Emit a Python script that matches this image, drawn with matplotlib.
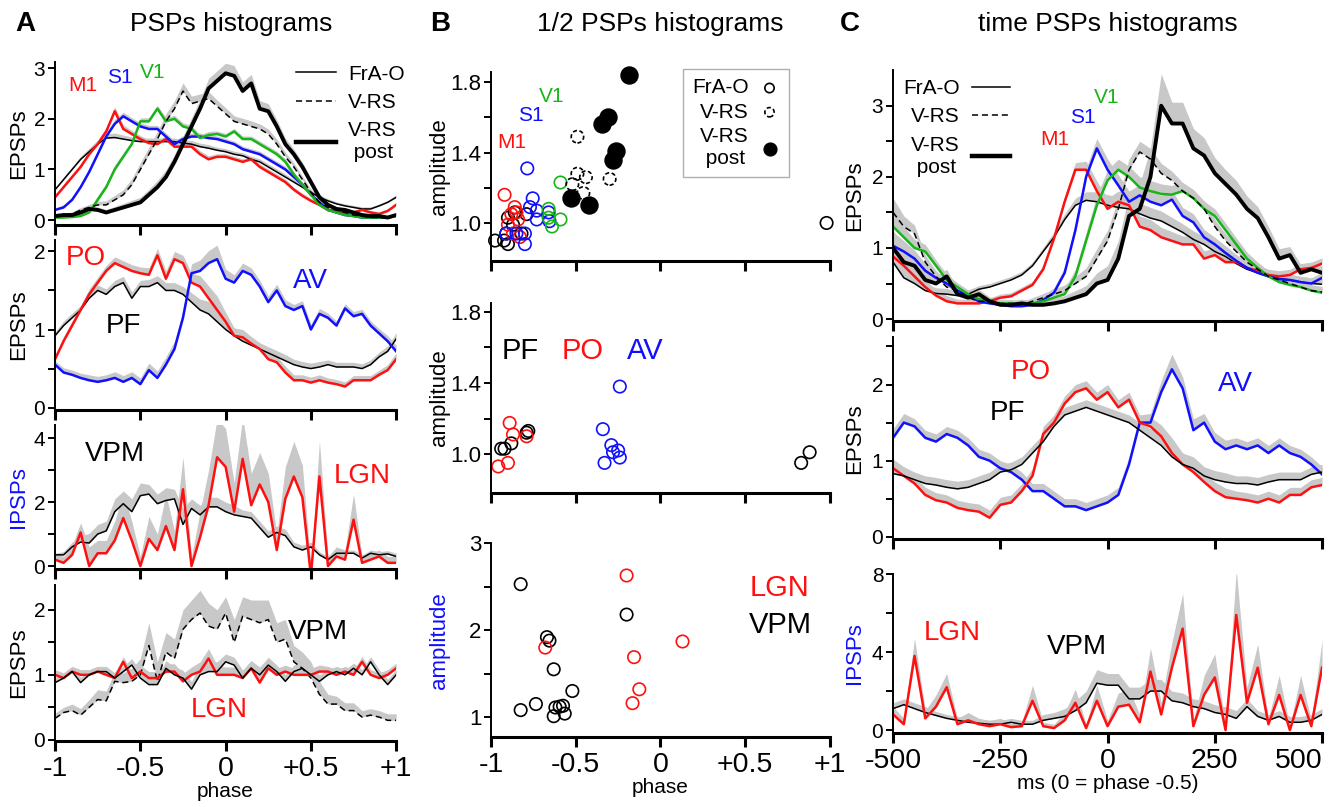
import numpy as np
import matplotlib.pyplot as plt
from matplotlib.lines import Line2D

plt.rcParams['font.family'] = ['Liberation Sans', 'DejaVu Sans']

RED = '#ff1010'
BLUE = '#1010ff'
GREEN = '#18b418'
GRAY = '#c8c8c8'

# ---------------- data ----------------
phase = np.linspace(-1, 1, 41)
ms = np.linspace(-500, 500, 41)

# A, row 1 : cortical EPSPs vs phase
FRA_A1 = [0.60,0.80,1.00,1.20,1.35,1.50,1.62,1.63,1.60,1.57,1.55,1.55,1.55,1.55,1.55,1.52,1.50,1.45,1.42,1.38,1.35,1.30,1.27,1.20,1.15,1.05,0.95,0.85,0.75,0.65,0.55,0.45,0.38,0.32,0.28,0.25,0.22,0.22,0.28,0.35,0.45]
M1_A1 = [0.45,0.65,0.85,1.05,1.30,1.50,1.75,2.15,1.80,1.70,1.60,1.52,1.50,1.60,1.45,1.45,1.45,1.30,1.20,1.25,1.25,1.20,1.15,1.20,1.05,0.95,0.85,0.75,0.60,0.48,0.38,0.30,0.20,0.18,0.15,0.15,0.20,0.15,0.12,0.18,0.30]
S1_A1 = [0.20,0.25,0.40,0.65,0.95,1.30,1.65,1.90,2.05,1.95,1.85,1.80,1.80,1.65,1.50,1.60,1.65,1.65,1.62,1.60,1.55,1.50,1.40,1.35,1.30,1.20,1.10,1.00,0.85,0.70,0.50,0.35,0.20,0.15,0.10,0.08,0.05,0.05,0.05,0.05,0.10]
V1_A1 = [0.05,0.05,0.06,0.08,0.15,0.40,0.65,1.00,1.25,1.50,1.95,1.95,2.20,1.95,2.00,1.85,1.80,1.62,1.68,1.70,1.65,1.75,1.60,1.60,1.50,1.40,1.30,1.15,0.90,0.70,0.50,0.30,0.20,0.15,0.10,0.08,0.05,0.05,0.05,0.05,0.08]
VRS_A1 = [0.10,0.10,0.12,0.20,0.25,0.30,0.30,0.40,0.50,0.70,1.00,1.30,1.60,1.95,2.20,2.55,2.30,2.35,2.40,2.25,2.10,1.95,1.90,1.85,1.80,1.70,1.50,1.25,1.05,0.80,0.55,0.35,0.25,0.20,0.15,0.10,0.08,0.05,0.05,0.05,0.10]
POST_A1 = [0.08,0.10,0.10,0.15,0.22,0.20,0.15,0.20,0.25,0.30,0.35,0.50,0.65,0.85,1.15,1.50,1.85,2.20,2.60,2.75,2.90,2.85,2.55,2.70,2.20,2.15,1.85,1.50,1.30,1.05,0.75,0.45,0.30,0.22,0.20,0.15,0.10,0.08,0.08,0.05,0.10]
SEM_A1 = [0.04,0.05,0.05,0.06,0.07,0.08,0.08,0.09,0.08,0.07,0.07,0.07,0.07,0.07,0.07,0.07,0.07,0.07,0.07,0.06,0.06,0.06,0.06,0.06,0.06,0.06,0.06,0.06,0.05,0.05,0.05,0.05,0.04,0.04,0.04,0.04,0.04,0.04,0.04,0.04,0.05]
SEM_A1_VRS = [0.03,0.03,0.04,0.05,0.06,0.07,0.08,0.09,0.10,0.12,0.13,0.14,0.15,0.15,0.16,0.16,0.15,0.14,0.14,0.12,0.12,0.11,0.11,0.11,0.10,0.10,0.10,0.09,0.08,0.07,0.06,0.05,0.04,0.04,0.04,0.03,0.03,0.03,0.03,0.03,0.03]
SEM_A1_POST = [0.03,0.04,0.04,0.05,0.06,0.06,0.06,0.07,0.08,0.09,0.10,0.11,0.13,0.14,0.15,0.16,0.17,0.18,0.20,0.20,0.20,0.20,0.18,0.18,0.16,0.15,0.13,0.12,0.10,0.09,0.07,0.06,0.05,0.04,0.04,0.04,0.03,0.03,0.03,0.03,0.04]

# A, row 2 : PF / PO / AV
PF_A2 = [0.92,1.05,1.15,1.25,1.40,1.50,1.45,1.55,1.60,1.40,1.55,1.55,1.60,1.50,1.50,1.45,1.35,1.25,1.20,1.10,1.00,0.92,0.85,0.80,0.75,0.70,0.65,0.60,0.55,0.52,0.50,0.52,0.55,0.52,0.52,0.52,0.50,0.55,0.65,0.72,0.88]
PO_A2 = [0.62,0.85,1.05,1.25,1.45,1.60,1.75,1.85,1.80,1.75,1.72,1.70,1.95,1.65,1.90,1.85,1.60,1.55,1.40,1.25,1.10,0.92,0.90,0.82,0.75,0.62,0.58,0.45,0.35,0.35,0.32,0.35,0.32,0.30,0.27,0.35,0.35,0.35,0.42,0.48,0.62]
AV_A2 = [0.55,0.45,0.42,0.38,0.35,0.33,0.35,0.38,0.33,0.38,0.30,0.48,0.38,0.55,0.75,1.15,1.72,1.75,1.85,1.90,1.65,1.60,1.75,1.70,1.55,1.35,1.50,1.30,1.25,1.30,1.00,1.20,1.15,1.05,1.27,1.17,1.20,1.05,0.95,0.85,0.72]
SEM_A2 = [0.05,0.06,0.06,0.06,0.07,0.07,0.07,0.08,0.08,0.08,0.08,0.09,0.09,0.10,0.10,0.10,0.12,0.14,0.16,0.18,0.12,0.10,0.10,0.09,0.08,0.08,0.08,0.08,0.07,0.07,0.07,0.07,0.06,0.06,0.06,0.06,0.06,0.06,0.06,0.07,0.08]

# A, row 3 : IPSPs VPM / LGN
VPM_A3 = [0.35,0.35,0.60,0.75,0.72,1.00,1.10,1.70,1.95,1.70,2.20,2.25,1.95,2.05,2.10,1.30,1.80,1.60,1.85,1.85,1.70,1.60,1.55,1.50,1.20,0.90,1.05,0.95,0.60,0.50,0.60,0.35,0.20,0.40,0.40,0.40,0.25,0.40,0.35,0.38,0.30]
LGN_A3 = [0.20,0.10,0.35,1.05,0.00,0.40,0.40,0.80,1.50,0.80,0.00,0.85,0.50,1.25,0.50,2.40,0.00,0.90,1.90,3.40,3.10,1.70,3.35,1.90,2.55,2.00,0.50,2.10,2.80,2.15,-0.30,2.80,0.00,0.30,0.20,1.45,0.10,0.20,0.30,0.10,0.10]
SEM_A3_VPM = [0.05,0.10,0.15,0.20,0.30,0.30,0.30,0.40,0.40,0.40,0.40,0.30,0.30,0.40,0.30,0.50,0.30,0.30,0.30,0.30,0.30,0.30,0.20,0.20,0.20,0.20,0.20,0.20,0.15,0.15,0.15,0.10,0.10,0.10,0.10,0.10,0.10,0.10,0.10,0.10,0.10]
SEM_A3_LGN = [0.20,0.20,0.30,0.30,0.60,0.40,0.40,0.60,0.80,0.60,0.30,0.70,0.50,1.00,0.60,1.00,0.30,0.80,1.10,1.20,1.20,0.90,1.30,1.00,1.00,0.90,0.50,1.00,1.10,1.00,0.30,1.10,0.30,0.30,0.30,0.80,0.20,0.20,0.20,0.20,0.20]

# A, row 4 : EPSPs VPM (dashed, V-RS) / LGN / VPM
VPMD_A4 = [0.33,0.42,0.45,0.38,0.50,0.62,0.60,0.90,0.88,0.90,1.00,1.45,0.90,1.35,1.25,1.70,1.85,1.95,1.75,1.70,1.95,1.50,1.90,1.85,1.80,1.85,1.50,1.55,1.20,1.10,0.95,0.70,0.55,0.55,0.45,0.45,0.35,0.38,0.35,0.30,0.30]
LGN_A4 = [1.00,0.95,1.05,1.00,1.00,1.05,1.00,0.95,1.20,0.95,1.05,0.95,0.95,1.05,1.05,0.90,1.00,1.05,1.25,1.00,1.00,1.00,0.95,1.10,0.88,1.10,1.00,1.05,1.00,1.00,1.00,1.05,1.05,1.00,1.05,1.00,1.20,1.00,0.95,1.00,1.10]
VPM_A4 = [0.88,0.95,1.05,0.88,1.00,1.05,1.05,0.95,1.05,1.15,0.95,0.85,0.85,1.10,1.00,0.95,0.78,1.00,1.05,1.05,1.20,1.15,0.95,1.10,1.00,1.15,1.05,0.90,1.05,1.10,1.00,0.90,1.00,1.05,1.00,1.10,1.00,1.20,1.00,0.85,1.00]
SEM_A4_D = [0.08,0.08,0.10,0.10,0.12,0.15,0.15,0.15,0.15,0.20,0.25,0.35,0.30,0.30,0.30,0.30,0.30,0.35,0.35,0.30,0.25,0.35,0.30,0.30,0.35,0.30,0.30,0.30,0.25,0.25,0.25,0.20,0.15,0.12,0.12,0.12,0.10,0.10,0.10,0.10,0.10]
SEM_A4 = [0.08,0.08,0.08,0.08,0.08,0.08,0.08,0.08,0.08,0.10,0.10,0.10,0.10,0.12,0.12,0.12,0.12,0.15,0.15,0.15,0.12,0.12,0.12,0.12,0.12,0.12,0.10,0.10,0.10,0.10,0.10,0.10,0.08,0.08,0.08,0.08,0.08,0.08,0.08,0.08,0.08]

# B : half-PSP phase vs amplitude
FRA_B1_X = [-0.976,-0.923,-0.90,-0.91,-0.90,-0.86,-0.87,-0.82,-0.79,0.98]
FRA_B1_Y = [0.90,0.90,0.88,0.94,1.03,1.06,0.99,0.94,1.05,1.00]
M1_B1_X = [-0.92,-0.86,-0.88,-0.84,-0.90,-0.83,-0.87,-0.85]
M1_B1_Y = [1.16,1.09,1.05,1.02,0.99,0.92,0.94,1.06]
S1_B1_X = [-0.786,-0.754,-0.77,-0.73,-0.73,-0.80,-0.91,-0.85,-0.80,-0.66,-0.655]
S1_B1_Y = [1.31,1.14,1.09,1.07,1.02,0.88,0.94,0.94,0.94,1.06,1.01]
V1_B1_X = [-0.59,-0.66,-0.64,-0.59,-0.66]
V1_B1_Y = [1.23,1.08,0.98,1.02,1.03]
VRS_B1_X = [-0.49,-0.49,-0.44,-0.52,-0.455,-0.30]
VRS_B1_Y = [1.49,1.28,1.26,1.22,1.17,1.25]
POST_B1_X = [-0.184,-0.31,-0.343,-0.26,-0.28,-0.53,-0.42]
POST_B1_Y = [1.84,1.60,1.56,1.41,1.36,1.14,1.10]

PF_B2_X = [-0.94,-0.92,-0.88,-0.78,-0.79,0.83,0.88]
PF_B2_Y = [1.03,1.03,1.06,1.13,1.12,0.95,1.01]
PO_B2_X = [-0.957,-0.90,-0.89,-0.87,-0.79]
PO_B2_Y = [0.93,0.95,1.175,1.11,1.10]
AV_B2_X = [-0.24,-0.34,-0.29,-0.33,-0.28,-0.25,-0.24]
AV_B2_Y = [1.38,1.14,1.05,0.95,1.01,1.02,0.98]

VPM_B3_X = [-0.825,-0.20,-0.67,-0.655,-0.63,-0.52,-0.735,-0.825,-0.62,-0.575,-0.595,-0.63,-0.565]
VPM_B3_Y = [2.53,2.18,1.92,1.88,1.55,1.30,1.15,1.08,1.11,1.13,1.12,1.01,1.04]
LGN_B3_X = [-0.20,0.13,-0.156,-0.125,-0.165,-0.68]
LGN_B3_Y = [2.63,1.87,1.69,1.32,1.16,1.80]

# C : PSPs vs time
FRA_C1 = [0.80,0.58,0.50,0.40,0.36,0.35,0.33,0.35,0.42,0.45,0.50,0.55,0.62,0.75,0.95,1.15,1.40,1.60,1.67,1.65,1.60,1.57,1.55,1.48,1.42,1.38,1.30,1.22,1.12,1.05,0.95,0.88,0.78,0.70,0.65,0.60,0.57,0.55,0.52,0.50,0.49]
M1_C1 = [0.88,0.75,0.60,0.45,0.33,0.25,0.22,0.22,0.22,0.25,0.30,0.32,0.40,0.48,0.70,1.13,1.65,2.10,2.10,1.80,1.55,1.65,1.60,1.30,1.25,1.15,1.10,1.05,1.05,0.85,0.90,0.80,0.80,0.72,0.68,0.62,0.60,0.62,0.70,0.72,0.78]
S1_C1 = [1.03,0.95,0.85,0.68,0.58,0.50,0.40,0.33,0.25,0.22,0.20,0.18,0.18,0.20,0.27,0.37,0.65,1.25,2.00,2.40,2.10,1.88,1.65,1.74,1.65,1.60,1.68,1.45,1.36,1.15,1.05,0.93,0.82,0.72,0.65,0.60,0.56,0.55,0.52,0.50,0.58]
V1_C1 = [1.30,1.15,1.00,0.95,0.75,0.55,0.45,0.35,0.28,0.25,0.22,0.22,0.20,0.22,0.25,0.30,0.35,0.60,1.10,1.60,1.95,2.10,2.00,1.85,1.80,1.76,1.75,1.80,1.70,1.55,1.45,1.25,1.05,0.85,0.72,0.60,0.52,0.48,0.45,0.40,0.37]
VRS_C1 = [1.50,1.30,1.20,0.80,0.60,0.45,0.40,0.30,0.25,0.25,0.22,0.22,0.20,0.25,0.30,0.35,0.40,0.50,0.60,0.85,1.10,1.55,2.10,2.35,2.25,2.05,1.95,1.80,1.70,1.55,1.30,1.10,0.95,0.80,0.70,0.60,0.55,0.50,0.45,0.40,0.38]
POST_C1 = [1.00,0.80,0.75,0.55,0.50,0.60,0.35,0.30,0.35,0.25,0.20,0.20,0.22,0.20,0.20,0.22,0.25,0.30,0.35,0.50,0.55,0.85,1.45,1.55,2.00,3.00,2.75,2.75,2.40,2.30,2.05,1.90,1.75,1.55,1.42,1.15,0.85,0.90,0.65,0.70,0.65]
SEM_C1 = [0.20,0.15,0.12,0.10,0.08,0.08,0.06,0.06,0.05,0.05,0.05,0.05,0.05,0.05,0.06,0.07,0.08,0.10,0.12,0.14,0.15,0.15,0.15,0.15,0.15,0.14,0.13,0.12,0.12,0.11,0.10,0.10,0.09,0.09,0.08,0.08,0.08,0.08,0.08,0.08,0.08]
SEM_C1_POST = [0.25,0.20,0.15,0.12,0.10,0.10,0.08,0.08,0.07,0.06,0.06,0.06,0.06,0.06,0.06,0.07,0.08,0.10,0.12,0.15,0.20,0.25,0.30,0.35,0.40,0.45,0.30,0.30,0.28,0.25,0.22,0.20,0.20,0.18,0.16,0.15,0.14,0.12,0.12,0.10,0.10]

AV_C2 = [1.30,1.50,1.45,1.30,1.25,1.35,1.30,1.20,1.05,1.00,0.90,0.85,0.75,0.60,0.60,0.50,0.40,0.40,0.35,0.40,0.45,0.55,0.95,1.50,1.50,1.90,2.20,1.95,1.40,1.50,1.25,1.15,1.20,1.15,1.20,1.10,1.20,1.10,1.05,0.95,0.82]
PO_C2 = [0.90,0.80,0.70,0.55,0.48,0.45,0.38,0.35,0.33,0.25,0.42,0.45,0.60,0.80,1.35,1.50,1.75,1.90,1.95,1.80,1.90,1.70,1.80,1.50,1.45,1.32,1.10,0.95,0.85,0.72,0.60,0.52,0.50,0.48,0.45,0.50,0.45,0.55,0.55,0.65,0.68]
PF_C2 = [0.83,0.80,0.75,0.70,0.68,0.65,0.63,0.65,0.70,0.75,0.85,0.88,0.95,1.10,1.25,1.45,1.60,1.65,1.70,1.65,1.60,1.55,1.50,1.40,1.30,1.20,1.05,0.95,0.90,0.80,0.75,0.72,0.70,0.70,0.68,0.72,0.75,0.75,0.75,0.82,0.85]
SEM_C2 = [0.12,0.12,0.10,0.10,0.10,0.10,0.10,0.10,0.10,0.10,0.10,0.10,0.10,0.10,0.10,0.10,0.10,0.10,0.10,0.10,0.10,0.10,0.10,0.10,0.12,0.15,0.20,0.15,0.15,0.12,0.12,0.12,0.10,0.10,0.10,0.10,0.10,0.10,0.10,0.10,0.10]

VPM_C3 = [1.10,1.30,1.10,0.90,0.75,0.60,0.50,0.40,0.35,0.30,0.30,0.40,0.30,0.30,0.50,0.60,0.70,1.00,1.40,2.40,2.30,2.30,1.60,1.60,2.00,2.00,1.50,1.40,1.20,1.10,0.90,0.80,0.60,1.20,0.70,0.50,0.70,0.40,0.40,0.50,0.80]
LGN_C3 = [0.80,0.30,3.80,0.60,1.20,2.20,0.30,0.50,0.30,0.20,0.30,0.15,0.20,1.50,0.20,0.10,0.50,1.40,0.10,1.50,0.20,1.20,1.30,0.40,3.00,0.80,3.20,5.20,0.20,1.80,2.70,0.00,5.90,1.40,3.20,0.30,1.80,0.00,1.80,0.20,3.20]
SEM_C3_VPM = [0.3,0.3,0.3,0.3,0.2,0.2,0.2,0.2,0.2,0.2,0.2,0.2,0.2,0.2,0.3,0.3,0.4,0.5,0.6,0.7,0.6,0.6,0.6,0.6,0.6,0.6,0.5,0.5,0.4,0.4,0.4,0.4,0.4,0.4,0.3,0.3,0.3,0.3,0.3,0.3,0.3]
SEM_C3_LGN = [0.4,0.3,0.9,0.4,0.6,0.7,0.3,0.4,0.3,0.3,0.3,0.2,0.2,0.8,0.2,0.2,0.4,0.7,0.2,0.8,0.3,0.7,0.8,0.4,1.2,0.6,1.3,1.8,0.3,1.0,1.2,0.2,2.3,0.8,1.2,0.3,1.0,0.2,1.0,0.3,1.4]

PHASE_TICKS = [-1, -0.5, 0, 0.5, 1]
PHASE_LABELS = ['-1', '-0.5', '0', '+0.5', '+1']
MS_TICKS = [-500, -250, 0, 250, 500]
MS_LABELS = ['-500', '-250', '0', '250', '500']


# ---------------- helpers ----------------
def traces(ax, x, items):
    ''' items: (y, sem, color, lw, ls); gray sem bands go under all lines '''
    for y, sem, c, lw, ls in items:
        y = np.asarray(y)
        ax.fill_between(x, y, y + np.asarray(sem), color=GRAY, lw=0, zorder=1)
    for y, sem, c, lw, ls in items:
        ax.plot(x, y, color=c, lw=lw, ls=ls, zorder=2)


def style(ax, xlim, xticks, ylim, yticks, yminor, ylabels=None, ycolor='k',
          ylabel=None, xlabels=None, xlab=None, ylab_x=-0.08, ysize=15):
    for s in ['top', 'right']:
        ax.spines[s].set_visible(False)
    ax.spines['left'].set_linewidth(1.4)
    ax.spines['bottom'].set_linewidth(2.2)
    ax.set_xlim(xlim)
    ax.set_ylim(ylim)
    ax.set_xticks(xticks)
    ax.set_yticks(yticks)
    ax.set_yticks(yminor, minor=True)
    ax.tick_params(axis='x', direction='out', length=7, width=2.2, labelsize=20.5, pad=4)
    ax.tick_params(axis='y', which='both', direction='out', length=5, width=1.4,
                   labelsize=ysize, pad=2)
    if ylabels is not None:
        ax.set_yticklabels(ylabels)
    if xlabels is None:
        ax.tick_params(axis='x', labelbottom=False)
    else:
        ax.set_xticklabels(xlabels)
    if ylabel:
        ax.set_ylabel(ylabel, fontsize=16, color=ycolor)
        ax.yaxis.set_label_coords(ylab_x, 0.5)
    if xlab:
        ax.set_xlabel(xlab, fontsize=15, labelpad=0)


fig = plt.figure(figsize=(13.43, 8.07), dpi=100)

AX, AW = 0.041, 0.254
BX, BW = 0.3656, 0.2524
CX, CW = 0.665, 0.3194

# ---------------- column A ----------------
a1 = fig.add_axes([AX, 0.721, AW, 0.202])
traces(a1, phase, [
    (FRA_A1, SEM_A1, 'k', 1.1, '-'),
    (M1_A1, SEM_A1, RED, 1.8, '-'),
    (S1_A1, SEM_A1, BLUE, 1.8, '-'),
    (V1_A1, SEM_A1, GREEN, 1.8, '-'),
    (VRS_A1, SEM_A1_VRS, 'k', 1.1, (0, (4, 2.5))),
    (POST_A1, SEM_A1_POST, 'k', 2.8, '-'),
])
style(a1, (-1, 1), PHASE_TICKS, (-0.1, 3.12), [0, 1, 2, 3], [], ylabel='EPSPs',
      ylab_x=-0.075)
a1.text(-0.84, 2.66, 'M1', color=RED, fontsize=15, ha='center', va='center')
a1.text(-0.62, 2.82, 'S1', color=BLUE, fontsize=15, ha='center', va='center')
a1.text(-0.43, 2.92, 'V1', color=GREEN, fontsize=15, ha='center', va='center')
hA = [Line2D([], [], color='k', lw=1.1),
      Line2D([], [], color='k', lw=1.1, ls=(0, (4, 2.5))),
      Line2D([], [], color='k', lw=3.2)]
legA = a1.legend(hA, ['FrA-O', 'V-RS', 'V-RS\n post'], loc='upper right',
                 bbox_to_anchor=(1.08, 1.1), frameon=False, fontsize=15,
                 handlelength=1.9, handletextpad=0.6, labelspacing=0.45)

a2 = fig.add_axes([AX, 0.492, AW, 0.211])
traces(a2, phase, [
    (PF_A2, SEM_A2, 'k', 1.1, '-'),
    (PO_A2, SEM_A2, RED, 1.8, '-'),
    (AV_A2, SEM_A2, BLUE, 1.8, '-'),
])
style(a2, (-1, 1), PHASE_TICKS, (-0.03, 2.15), [0, 1, 2], [0.5, 1.5], ylabel='EPSPs',
      ylab_x=-0.075)
a2.text(-0.82, 1.92, 'PO', color=RED, fontsize=20, ha='center', va='center')
a2.text(-0.6, 1.04, 'PF', color='k', fontsize=20, ha='center', va='center')
a2.text(0.5, 1.62, 'AV', color=BLUE, fontsize=20, ha='center', va='center')

a3 = fig.add_axes([AX, 0.295, AW, 0.178])
traces(a3, phase, [
    (VPM_A3, SEM_A3_VPM, 'k', 1.1, '-'),
    (LGN_A3, SEM_A3_LGN, RED, 1.8, '-'),
])
style(a3, (-1, 1), PHASE_TICKS, (-0.09, 4.4), [0, 2, 4], [1, 3], ylabel='IPSPs',
      ycolor=BLUE, ylab_x=-0.075)
a3.text(-0.65, 3.5, 'VPM', color='k', fontsize=20, ha='center', va='center')
a3.text(0.8, 2.8, 'LGN', color=RED, fontsize=20, ha='center', va='center')

a4 = fig.add_axes([AX, 0.082, AW, 0.193])
traces(a4, phase, [
    (VPMD_A4, SEM_A4_D, 'k', 1.1, (0, (4, 2.5))),
    (LGN_A4, SEM_A4, RED, 1.8, '-'),
    (VPM_A4, SEM_A4, 'k', 1.1, '-'),
])
style(a4, (-1, 1), PHASE_TICKS, (-0.015, 2.38), [0, 1, 2], [0.5, 1.5], ylabel='EPSPs',
      xlabels=PHASE_LABELS, xlab='phase', ylab_x=-0.075)
a4.text(0.54, 1.66, 'VPM', color='k', fontsize=20, ha='center', va='center')
a4.text(-0.04, 0.46, 'LGN', color=RED, fontsize=20, ha='center', va='center')

# ---------------- column B ----------------
MS = 80
LW = 1.2
b1 = fig.add_axes([BX, 0.6766, BW, 0.234])
h_fra = b1.scatter(FRA_B1_X, FRA_B1_Y, s=MS, facecolors='none', edgecolors='k',
                   linewidths=LW, clip_on=False)
b1.scatter(M1_B1_X, M1_B1_Y, s=MS, facecolors='none', edgecolors=RED, linewidths=LW,
           clip_on=False)
b1.scatter(S1_B1_X, S1_B1_Y, s=MS, facecolors='none', edgecolors=BLUE, linewidths=LW,
           clip_on=False)
b1.scatter(V1_B1_X, V1_B1_Y, s=MS, facecolors='none', edgecolors=GREEN, linewidths=LW,
           clip_on=False)
h_vrs = b1.scatter(VRS_B1_X, VRS_B1_Y, s=MS, facecolors='none', edgecolors='k',
                   linewidths=LW, linestyles=(0, (2.5, 1.5)), clip_on=False)
h_post = b1.scatter(POST_B1_X, POST_B1_Y, s=150, facecolors='k', edgecolors='k',
                    clip_on=False)
style(b1, (-1, 1), PHASE_TICKS, (0.784, 1.857), [1.0, 1.4, 1.8], [1.2, 1.6],
      ylabels=['1.0', '1.4', '1.8'], ylabel='amplitude', ylab_x=-0.12, ysize=16)
b1.text(-0.875, 1.46, 'M1', color=RED, fontsize=15, ha='center', va='center')
b1.text(-0.765, 1.61, 'S1', color=BLUE, fontsize=15, ha='center', va='center')
b1.text(-0.64, 1.72, 'V1', color=GREEN, fontsize=15, ha='center', va='center')
legB = b1.legend([h_fra, h_vrs, h_post], ['FrA-O', 'V-RS', 'V-RS\n post'],
                 loc='upper right', bbox_to_anchor=(0.88, 1.016), borderaxespad=0,
                 markerfirst=False, fontsize=15, fancybox=False, borderpad=0.45,
                 handlelength=1.0, handletextpad=0.5, labelspacing=0.25,
                 scatterpoints=1, markerscale=0.75)
legB.get_frame().set_edgecolor('#9a9a9a')
legB.get_frame().set_linewidth(1.0)

b2 = fig.add_axes([BX, 0.389, BW, 0.2354])
b2.scatter(PF_B2_X, PF_B2_Y, s=MS, facecolors='none', edgecolors='k', linewidths=LW,
           clip_on=False)
b2.scatter(PO_B2_X, PO_B2_Y, s=MS, facecolors='none', edgecolors=RED, linewidths=LW,
           clip_on=False)
b2.scatter(AV_B2_X, AV_B2_Y, s=MS, facecolors='none', edgecolors=BLUE, linewidths=LW,
           clip_on=False)
style(b2, (-1, 1), PHASE_TICKS, (0.78, 1.85), [1.0, 1.4, 1.8], [1.2, 1.6],
      ylabels=['1.0', '1.4', '1.8'], ylabel='amplitude', ylab_x=-0.12, ysize=16)
b2.text(-0.83, 1.58, 'PF', color='k', fontsize=21, ha='center', va='center')
b2.text(-0.46, 1.58, 'PO', color=RED, fontsize=21, ha='center', va='center')
b2.text(-0.09, 1.58, 'AV', color=BLUE, fontsize=21, ha='center', va='center')

b3 = fig.add_axes([BX, 0.0867, BW, 0.240])
b3.scatter(VPM_B3_X, VPM_B3_Y, s=MS, facecolors='none', edgecolors='k', linewidths=LW,
           clip_on=False)
b3.scatter(LGN_B3_X, LGN_B3_Y, s=MS, facecolors='none', edgecolors=RED, linewidths=LW,
           clip_on=False)
style(b3, (-1, 1), PHASE_TICKS, (0.77, 3.0), [1, 2, 3], [1.5, 2.5], ylabel='amplitude',
      ycolor=BLUE, xlabels=PHASE_LABELS, xlab='phase', ylab_x=-0.12, ysize=16)
b3.text(0.705, 2.49, 'LGN', color=RED, fontsize=21, ha='center', va='center')
b3.text(0.705, 2.06, 'VPM', color='k', fontsize=21, ha='center', va='center')

# ---------------- column C ----------------
c1 = fig.add_axes([CX, 0.602, CW, 0.311])
traces(c1, ms, [
    (FRA_C1, SEM_C1, 'k', 1.1, '-'),
    (M1_C1, SEM_C1, RED, 1.8, '-'),
    (S1_C1, SEM_C1, BLUE, 1.8, '-'),
    (V1_C1, SEM_C1, GREEN, 1.8, '-'),
    (VRS_C1, SEM_C1, 'k', 1.1, (0, (4, 2.5))),
    (POST_C1, SEM_C1_POST, 'k', 2.8, '-'),
])
style(c1, (-500, 500), MS_TICKS, (-0.03, 3.5), [0, 1, 2, 3], [0.5, 1.5, 2.5],
      ylabel='EPSPs', ylab_x=-0.065)
c1.text(-122, 2.52, 'M1', color=RED, fontsize=15, ha='center', va='center')
c1.text(-57, 2.83, 'S1', color=BLUE, fontsize=15, ha='center', va='center')
c1.text(-1, 3.11, 'V1', color=GREEN, fontsize=15, ha='center', va='center')
legC = c1.legend(hA, ['FrA-O', 'V-RS', 'V-RS\n post'], loc='upper left',
                 bbox_to_anchor=(-0.02, 1.04), frameon=False, fontsize=15,
                 markerfirst=False, handlelength=1.8, handletextpad=0.6,
                 labelspacing=0.45)

c2 = fig.add_axes([CX, 0.332, CW, 0.250])
traces(c2, ms, [
    (AV_C2, SEM_C2, BLUE, 1.8, '-'),
    (PO_C2, SEM_C2, RED, 1.8, '-'),
    (PF_C2, SEM_C2, 'k', 1.1, '-'),
])
style(c2, (-500, 500), MS_TICKS, (-0.03, 2.62), [0, 1, 2], [0.5, 1.5, 2.5],
      ylabel='EPSPs', ylab_x=-0.065)
c2.text(-178, 2.17, 'PO', color=RED, fontsize=20, ha='center', va='center')
c2.text(-234, 1.63, 'PF', color='k', fontsize=20, ha='center', va='center')
c2.text(297, 2.01, 'AV', color=BLUE, fontsize=20, ha='center', va='center')

c3 = fig.add_axes([CX, 0.0917, CW, 0.197])
traces(c3, ms, [
    (VPM_C3, SEM_C3_VPM, 'k', 1.1, '-'),
    (LGN_C3, SEM_C3_LGN, RED, 1.8, '-'),
])
style(c3, (-500, 500), MS_TICKS, (-0.15, 8.0), [0, 4, 8], [2, 6], ylabel='IPSPs',
      ycolor=BLUE, xlabels=MS_LABELS, xlab='ms (0 = phase -0.5)', ylab_x=-0.065)
c3.get_xticklabels()[-1].set_ha('right')
c3.text(-362, 4.97, 'LGN', color=RED, fontsize=20, ha='center', va='center')
c3.text(-71, 4.26, 'VPM', color='k', fontsize=20, ha='center', va='center')

# ---------------- titles ----------------
fig.text(25 / 1343, 1 - 24 / 807, 'A', fontsize=20, fontweight='bold', ha='center', va='center')
fig.text(440 / 1343, 1 - 24 / 807, 'B', fontsize=20, fontweight='bold', ha='center', va='center')
fig.text(850 / 1343, 1 - 24 / 807, 'C', fontsize=20, fontweight='bold', ha='center', va='center')
fig.text(231 / 1343, 1 - 24 / 807, 'PSPs histograms', fontsize=19, ha='center', va='center')
fig.text(660 / 1343, 1 - 24 / 807, '1/2 PSPs histograms', fontsize=19, ha='center', va='center')
fig.text(1108 / 1343, 1 - 24 / 807, 'time PSPs histograms', fontsize=19, ha='center', va='center')

fig.savefig('out.png', dpi=100)
